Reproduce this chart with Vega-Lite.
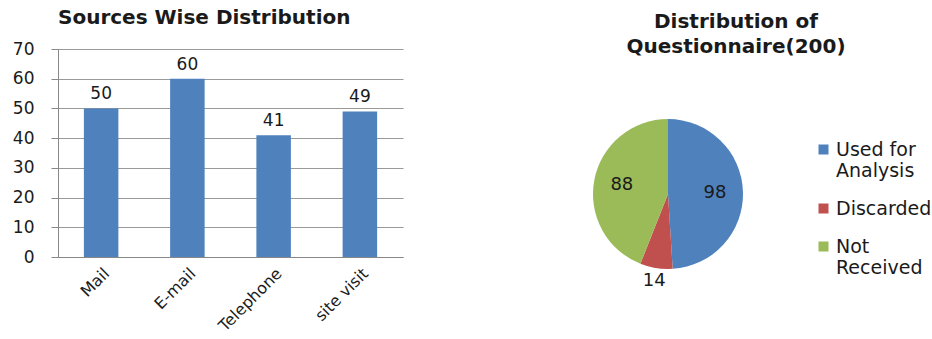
{
  "$schema": "https://vega.github.io/schema/vega-lite/v6.json",
  "padding": {"left": 12, "top": 8, "right": 0, "bottom": 0},
  "background": "white",
  "config": {"view": {"stroke": null}, "font": "DejaVu Sans", "concat": {"spacing": 155}},
  "resolve": {"legend": {"color": "independent"}, "scale": {"color": "independent"}},
  "hconcat": [
    {
      "width": 345,
      "height": 208,
      "title": {"text": "Sources Wise Distribution", "anchor": "start", "frame": "group", "fontSize": 20, "fontWeight": "bold", "color": "#1a1a1a", "offset": 12},
      "data": {"values": [
        {"source": "Mail", "count": 50},
        {"source": "E-mail", "count": 60},
        {"source": "Telephone", "count": 41},
        {"source": "site visit", "count": 49}
      ]},
      "encoding": {
        "x": {"field": "source", "type": "nominal", "sort": null,
          "scale": {"paddingInner": 0.6, "paddingOuter": 0.3},
          "axis": {"title": null, "labelAngle": -45, "labelFontSize": 16, "labelColor": "#1a1a1a", "domainColor": "#888888", "ticks": false, "labelPadding": 8}},
        "y": {"field": "count", "type": "quantitative", "scale": {"domain": [0, 70]},
          "axis": {"title": null, "values": [0, 10, 20, 30, 40, 50, 60, 70], "labelFontSize": 17, "labelColor": "#1a1a1a", "gridColor": "#999999", "gridOpacity": 1, "domainColor": "#888888", "tickColor": "#888888", "tickSize": 7, "labelPadding": 17}}
      },
      "layer": [
        {"mark": {"type": "bar", "color": "#4F81BD"}},
        {"mark": {"type": "text", "dy": -14, "fontSize": 17, "color": "#1a1a1a"}, "encoding": {"text": {"field": "count", "type": "quantitative"}}}
      ]
    },
    {
      "width": 220,
      "height": 290,
      "title": {"text": ["Distribution of", "Questionnaire(200)"], "anchor": "middle", "dx": 68, "fontSize": 20, "fontWeight": "bold", "color": "#1a1a1a", "lineHeight": 25, "offset": -8},
      "data": {"values": [
        {"status": "Used for Analysis", "count": 98, "k": 1},
        {"status": "Discarded", "count": 14, "k": 2},
        {"status": "Not Received", "count": 88, "k": 3}
      ]},
      "encoding": {
        "theta": {"field": "count", "type": "quantitative", "stack": true},
        "order": {"field": "k", "type": "quantitative"}
      },
      "layer": [
        {"mark": {"type": "arc", "outerRadius": 75},
          "encoding": {"color": {"field": "status", "type": "nominal", "sort": null,
            "scale": {"domain": ["Used for Analysis", "Discarded", "Not Received"], "range": ["#4F81BD", "#C0504D", "#9BBB59"]},
            "legend": {"title": null, "orient": "none", "legendX": 256, "legendY": 91, "symbolType": "square", "symbolSize": 100, "symbolStrokeWidth": 0, "labelFontSize": 19, "labelColor": "#1a1a1a", "labelOffset": 3, "rowPadding": 18, "labelLimit": 200,
              "labelExpr": "datum.label === 'Used for Analysis' ? ['Used for', 'Analysis'] : datum.label === 'Not Received' ? ['Not', 'Received'] : datum.label"}}}},
        {"mark": {"type": "text", "radius": 47, "fontSize": 18, "color": "#1a1a1a"},
          "encoding": {"text": {"condition": {"test": "datum.status === 'Discarded'", "value": ""}, "field": "count", "type": "quantitative"}}},
        {"mark": {"type": "text", "radius": 88, "fontSize": 18, "color": "#1a1a1a"},
          "encoding": {"text": {"condition": {"test": "datum.status !== 'Discarded'", "value": ""}, "field": "count", "type": "quantitative"}}}
      ]
    }
  ]
}
